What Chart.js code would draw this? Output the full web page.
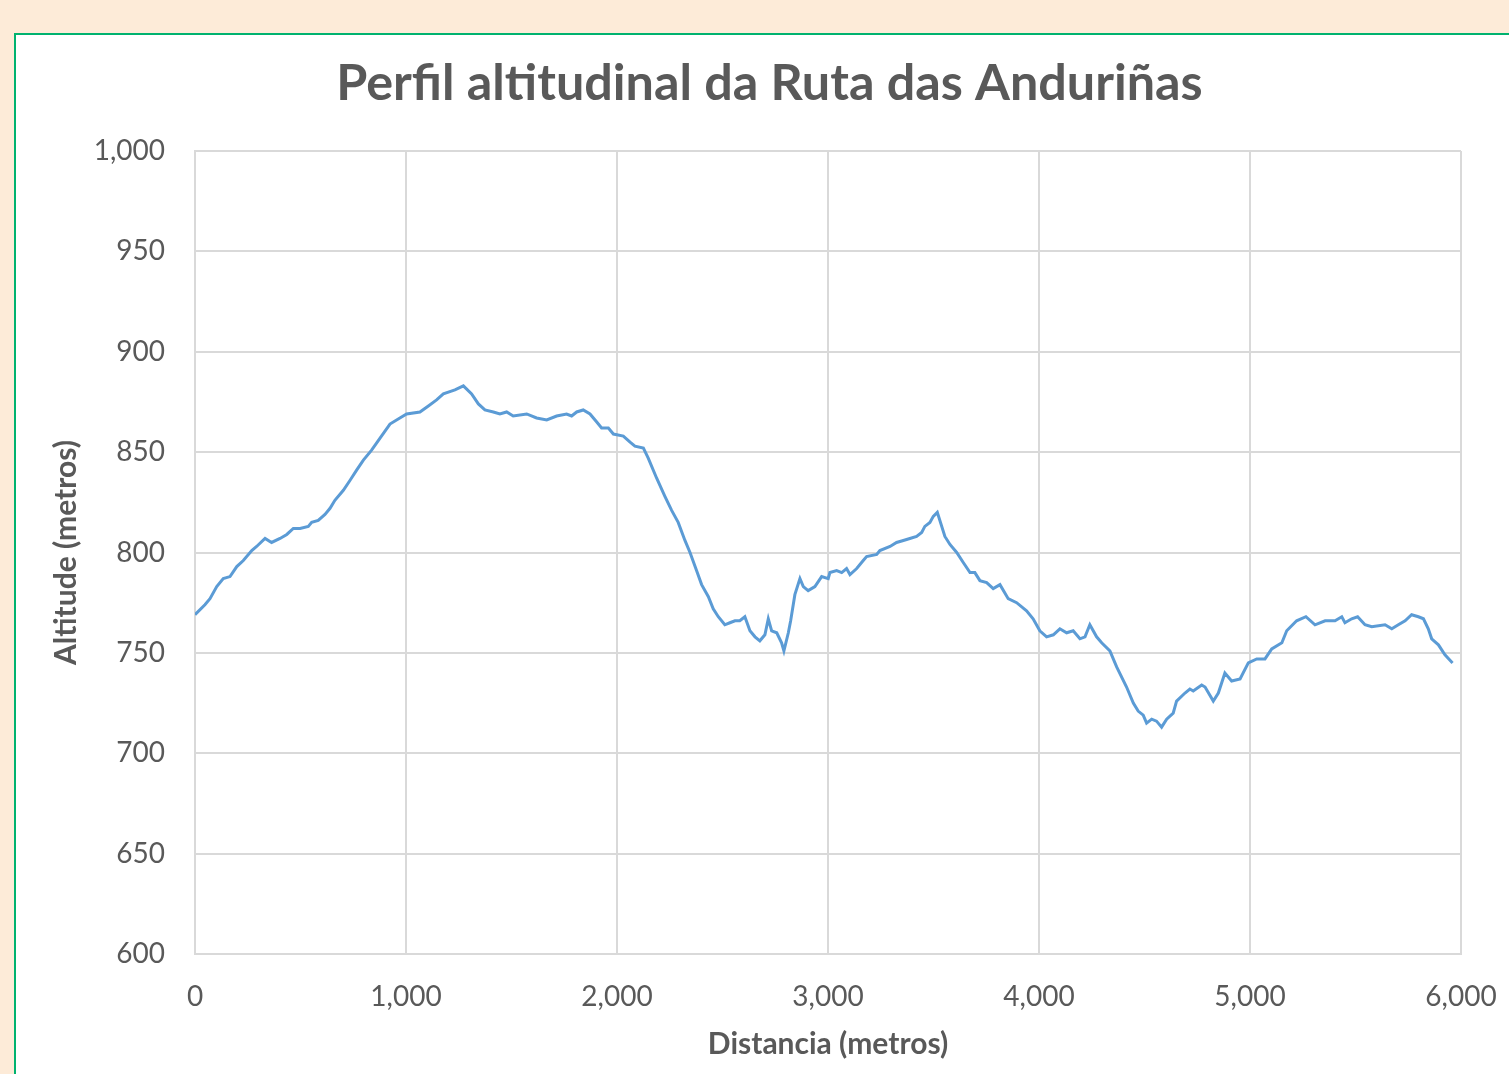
<!DOCTYPE html>
<html>
<head>
<meta charset="utf-8">
<script src="https://cdn.jsdelivr.net/npm/chart.js@4/dist/chart.umd.min.js"></script>
<style>
  html, body { margin: 0; padding: 0; width: 1509px; height: 1074px; overflow: hidden; background: #FDEBD8; }
  #panel { position: absolute; left: 14px; top: 33px; width: 1600px; height: 1200px; background: #ffffff; border-left: 2px solid #00B26F; border-top: 2px solid #00B26F; box-sizing: border-box; }
  #wrap { position: absolute; left: 14px; top: 33px; width: 1511px; height: 1041px; }
</style>
</head>
<body>
<div id="panel"></div>
<div id="wrap"><canvas id="c" width="1511" height="1041"></canvas></div>
<script>
const chartTitle = 'Perfil altitudinal da Ruta das Anduriñas';
const xTitle = 'Distancia (metros)';
const yTitle = 'Altitude (metros)';

const distance = [0,47,71,103,134,166,198,229,269,292,332,363,403,435,466,498,537,553,584,616,640,663,703,735,766,798,837,877,924,971,1003,1066,1106,1145,1177,1232,1272,1311,1343,1374,1414,1445,1477,1508,1572,1619,1667,1714,1761,1785,1809,1840,1872,1904,1927,1959,1983,2030,2062,2085,2125,2148,2188,2227,2259,2290,2322,2346,2377,2401,2433,2456,2480,2511,2535,2559,2582,2606,2630,2654,2677,2701,2717,2733,2757,2780,2791,2812,2823,2843,2867,2883,2906,2938,2970,3001,3009,3041,3065,3088,3104,3136,3167,3183,3231,3246,3294,3325,3357,3388,3420,3444,3459,3483,3499,3518,3554,3578,3610,3641,3673,3696,3720,3752,3783,3815,3854,3894,3941,3972,4004,4036,4068,4099,4131,4162,4194,4218,4241,4273,4297,4336,4368,4415,4447,4470,4494,4510,4534,4557,4581,4605,4636,4652,4692,4715,4731,4771,4787,4826,4850,4881,4913,4953,4992,5032,5071,5103,5151,5174,5221,5265,5308,5356,5403,5435,5450,5482,5510,5545,5577,5640,5672,5703,5735,5766,5798,5822,5845,5861,5893,5924,5960];
const altitude = [769,774,777,783,787,788,793,796,801,803,807,805,807,809,812,812,813,815,816,819,822,826,831,836,841,846,851,857,864,867,869,870,873,876,879,881,883,879,874,871,870,869,870,868,869,867,866,868,869,868,870,871,869,865,862,862,859,858,855,853,852,847,837,828,821,815,806,800,791,784,778,772,768,764,765,766,766,768,761,758,756,759,767,761,760,755,751,760,766,779,787,783,781,783,788,787,790,791,790,792,789,792,796,798,799,801,803,805,806,807,808,810,813,815,818,820,808,804,800,795,790,790,786,785,782,784,777,775,771,767,761,758,759,762,760,761,757,758,764,758,755,751,743,733,725,721,719,715,717,716,713,717,720,726,730,732,731,734,733,726,730,740,736,737,745,747,747,752,755,761,766,768,764,766,766,768,765,767,768,764,763,764,762,764,766,769,768,767,762,757,754,749,745];

const xMin = 0, xMax = 6000, xStep = 1000;
const yMin = 600, yMax = 1000, yStep = 50;

const FONT = 'Lato';
const TEXT = '#595959';
const GRID = '#D9D9D9';

// fit title font size to the reference title width
const mctx = document.createElement('canvas').getContext('2d');
mctx.font = 'bold 100px ' + FONT;
const titleSize = Math.round(100 * 867 / mctx.measureText(chartTitle).width * 10) / 10;
const titlePadTop = 51 - titleSize * 0.6;
const titlePadBottom = 118 - titleSize * 1.2 - titlePadTop;

const AXIS_TITLE_SIZE = 30;

const points = distance.map((d, i) => ({ x: d, y: altitude[i] }));
const fmt = v => Number(v).toLocaleString('en-US');

new Chart(document.getElementById('c'), {
  type: 'line',
  data: {
    datasets: [{
      data: points,
      borderColor: '#5B9BD5',
      borderWidth: 3,
      pointRadius: 0,
      tension: 0,
      fill: false
    }]
  },
  options: {
    responsive: false,
    animation: false,
    layout: { padding: { left: 64, right: 64, top: 0, bottom: 10 } },
    plugins: {
      legend: { display: false },
      tooltip: { enabled: false },
      title: {
        display: true,
        text: chartTitle,
        color: TEXT,
        font: { family: FONT, size: titleSize, weight: 'bold', lineHeight: 1.2 },
        padding: { top: titlePadTop, bottom: titlePadBottom }
      }
    },
    scales: {
      x: {
        type: 'linear',
        min: xMin, max: xMax,
        afterFit: s => { s.height = 110; },
        ticks: { stepSize: xStep, color: TEXT, font: { family: FONT, size: 28 }, padding: 26, callback: fmt, maxRotation: 0 },
        grid: { color: GRID, lineWidth: 2, drawTicks: false },
        border: { display: true, color: GRID, width: 2 },
        title: { display: true, text: xTitle, color: TEXT, font: { family: FONT, size: AXIS_TITLE_SIZE, weight: 'bold', lineHeight: 1.2 }, padding: { top: 0, bottom: 2 } }
      },
      y: {
        type: 'linear',
        min: yMin, max: yMax,
        afterFit: s => { s.width = 117; },
        ticks: { stepSize: yStep, color: TEXT, font: { family: FONT, size: 28 }, padding: 30, callback: fmt },
        grid: { color: GRID, lineWidth: 2, drawTicks: false },
        border: { display: true, color: GRID, width: 2 },
        title: { display: true, text: yTitle, color: TEXT, font: { family: FONT, size: AXIS_TITLE_SIZE, weight: 'bold', lineHeight: 1.2 }, padding: { top: -30, bottom: 0 } }
      }
    }
  }
});
</script>
</body>
</html>
